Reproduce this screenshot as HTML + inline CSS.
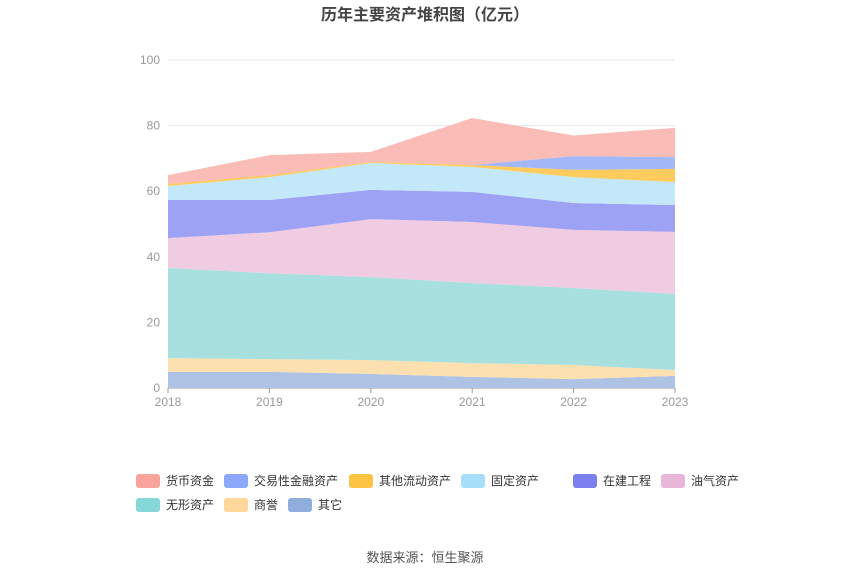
<!DOCTYPE html>
<html><head><meta charset="utf-8"><style>
body{margin:0;background:#fff;font-family:"Liberation Sans","Noto Sans CJK SC",sans-serif;}
</style></head><body>
<svg id="c" width="850" height="574" xmlns="http://www.w3.org/2000/svg">
<text x="425" y="20" text-anchor="middle" font-size="16" font-weight="bold" fill="#444">历年主要资产堆积图（亿元）</text>
<g id="grid"></g><g id="areas"></g><g id="axes"></g><g id="legend"></g>
<text x="425" y="562" text-anchor="middle" font-size="13" fill="#555">数据来源：恒生聚源</text>
</svg>
<script>
const years=['2018','2019','2020','2021','2022','2023'];
const yTicks=[0,20,40,60,80,100];
const seriesNames=['其它','商誉','无形资产','油气资产','在建工程','固定资产','其他流动资产','交易性金融资产','货币资金'];
const qita=[4.9,4.9,4.3,3.4,2.7,3.7];
const shangyu=[4.2,3.9,4.2,4.2,4.3,1.8];
const wuxing=[27.5,26.2,25.3,24.4,23.5,23.2];
const youqi=[9.1,12.5,17.7,18.6,17.7,18.9];
const zaijian=[11.6,9.8,8.9,9.2,8.2,8.2];
const guding=[4.3,7.0,8.2,7.6,7.9,7.0];
const qitaliudong=[0.6,0.6,0.3,0.6,2.2,4.0];
const jiaoyi=[0,0,0,0,4.2,3.6];
const huobi=[2.7,6.1,3.1,14.3,6.3,8.9];
const seriesValues=[qita,shangyu,wuxing,youqi,zaijian,guding,qitaliudong,jiaoyi,huobi];
const areaColors=['#aec3e3','#fde0b0','#a8e0e0','#efcce2','#9ea2f4','#c2e8fa','#fecb5c','#a3b8f8','#f9bcb6'];
const legColors=['#8faedd','#fdd89a','#86d7d7','#e8b6d8','#7c7ff0','#a6def9','#fdc443','#8ca8fb','#f8a39b'];
const slugs=['other','goodwill','intangible','oil-gas','construction','fixed','other-current','trading-financial','cash'];
const NS='http://www.w3.org/2000/svg';
const x0=168,x1=675,y0=388,y1=60;
const xs=i=>x0+(x1-x0)*i/(years.length-1);
const ys=v=>y0-(y0-y1)*v/100;
function mk(t,a,p){const e=document.createElementNS(NS,t);for(const k in a)e.setAttribute(k,a[k]);p.appendChild(e);return e;}
const grid=document.getElementById('grid'),axes=document.getElementById('axes'),areas=document.getElementById('areas'),leg=document.getElementById('legend');
yTicks.forEach(t=>{
 const l=mk('line',{x1:x0,x2:x1,y1:ys(t),y2:ys(t),stroke:t===0?'#999':'#e6e6e6'},grid);
 
 
 const tx=mk('text',{x:160,y:ys(t)+4,'text-anchor':'end','font-size':12,fill:'#999'},axes);tx.textContent=t;
 
 
});
years.forEach((y,i)=>{
 mk('line',{x1:xs(i),x2:xs(i),y1:y0,y2:y0+5,stroke:'#999'},axes);
 const tx=mk('text',{x:xs(i),y:y0+18,'text-anchor':'middle','font-size':12,fill:'#999'},axes);tx.textContent=y;
 
 
});
let base=years.map(()=>0);
seriesValues.forEach((vals,s)=>{
 const top=base.map((b,i)=>b+vals[i]);
 let d='M'+top.map((v,i)=>xs(i)+','+ys(v)).join('L');
 for(let i=years.length-1;i>=0;i--)d+='L'+xs(i)+','+ys(base[i]);
 const p=mk('path',{d:d+'Z',fill:areaColors[s],stroke:'none'},areas);
 
 
 base=top;
});
const order=[8,7,6,5,4,3,2,1,0];
const pos=[[136,481],[224,481],[349,481],[461,481],[573,481],[661,481],[136,505],[224,505],[288,505]];
order.forEach((s,k)=>{
 const g=mk('g',{},leg);
 
 
 const [lx,ly]=pos[k];
 mk('rect',{x:lx,y:ly-7,width:24,height:14,rx:3,fill:legColors[s]},g);
 const t=mk('text',{x:lx+30,y:ly+4,'font-size':12,fill:'#333'},g);t.textContent=seriesNames[s];
});
</script>
</body></html>
